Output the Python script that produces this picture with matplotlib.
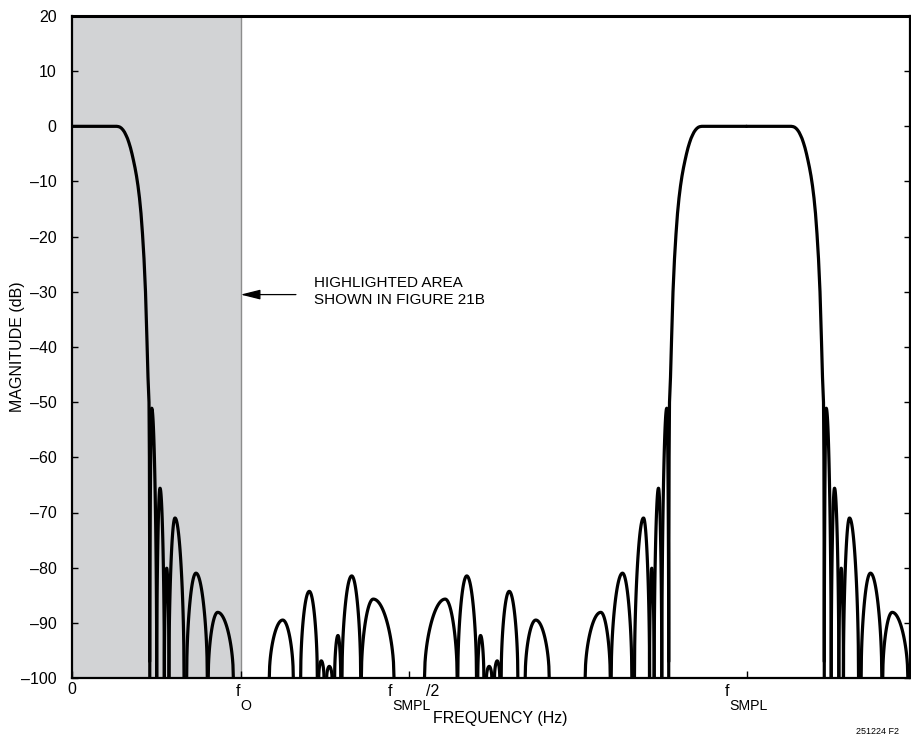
import numpy as np
import matplotlib
matplotlib.use("Agg")
import matplotlib.pyplot as plt
from matplotlib import font_manager

# ---------------- data (frequency normalised to f_SMPL = 1) ----------------
# pass-band edge of the baseband response (freq, dB)
edge_f = [0.0, 0.06627, 0.06894, 0.07116, 0.07339, 0.07561, 0.07784, 0.08006,
          0.08228, 0.08451, 0.08673, 0.08899, 0.09118, 0.09340, 0.09563,
          0.09785, 0.10007, 0.10230, 0.10452, 0.10675, 0.10897, 0.11119,
          0.11268, 0.11416, 0.11475, 0.11505, 0.11520]
edge_db = [0.0, 0.0, -0.05, -0.15, -0.35, -0.65, -1.05, -1.6,
           -2.2, -3.0, -3.9, -5.0, -6.2, -7.5, -9.0,
           -10.8, -13.0, -15.8, -19.5, -24.0, -30.0, -39.0,
           -45.5, -50.0, -60.0, -75.0, -97.0]

# stop-band lobes of the baseband response (0 .. f_SMPL/2)
lobe_start = [0.1153, 0.1256, 0.1369, 0.1437, 0.1700, 0.2020,
              0.2925, 0.3390, 0.3658, 0.3776, 0.3894, 0.4003, 0.4290]
lobe_peakf = [0.1182, 0.1305, 0.1404, 0.1527, 0.1838, 0.2160,
              0.3124, 0.3518, 0.3696, 0.3815, 0.3943, 0.4147, 0.4467]
lobe_end = [0.1256, 0.1369, 0.1438, 0.1661, 0.2006, 0.2392,
            0.3281, 0.3637, 0.3736, 0.3855, 0.3984, 0.4280, 0.4774]
lobe_peak = [-51.1, -65.6, -80.1, -71.0, -81.0, -88.1,
             -89.5, -84.3, -96.9, -97.9, -92.3, -81.5, -85.7]

yticks = [20, 10, 0, -10, -20, -30, -40, -50, -60, -70, -80, -90, -100]
xticks = [0.0, 0.25, 0.5, 1.0]
xtick_main = ["0", "f", "f", "f"]
xtick_sub = ["", "O", "SMPL", "SMPL"]
xtick_suffix = ["", "", "/2", ""]
f0 = 0.25
xmax = 1.2424

# ---------------- fonts ----------------
avail = {f.name for f in font_manager.fontManager.ttflist}
fam = "Liberation Sans Narrow" if "Liberation Sans Narrow" in avail else "Liberation Sans"
plt.rcParams["font.family"] = [fam, "DejaVu Sans"]

fig = plt.figure(figsize=(9.12, 7.4), dpi=100)
ax = fig.add_axes([72 / 912, 1 - 678 / 740, (910 - 72) / 912, (678 - 16) / 740])

ax.axvspan(0, f0, color="#d2d3d5", zorder=0, lw=0)
ax.axvline(f0, color="#8c8c8c", lw=1.0, zorder=1)

# build pieces of the baseband curve
pieces = [(np.array(edge_f), np.array(edge_db))]
for s, pf, e, pk in zip(lobe_start, lobe_peakf, lobe_end, lobe_peak):
    tl = np.linspace(0, 1, 40)
    xl = s + (pf - s) * tl
    yl = -100 + (pk + 100) * np.sqrt(np.sin(np.pi / 2 * tl))
    tr = np.linspace(1, 0, 40)
    xr = pf + (e - pf) * (1 - tr)
    yr = -100 + (pk + 100) * np.sqrt(np.sin(np.pi / 2 * tr))
    pieces.append((np.concatenate([xl, xr[1:]]), np.concatenate([yl, yr[1:]])))

# sampled response: baseband, its mirror about f_SMPL/2 and the image around f_SMPL
for xs, ys in pieces:
    for xx in (xs, 1 - xs, 1 + xs):
        ax.plot(xx, ys, color="black", lw=2.3, solid_capstyle="round",
                solid_joinstyle="round", zorder=3)

ax.set_xlim(0, xmax)
ax.set_ylim(-100, 20)
ax.set_yticks(yticks)
ax.set_yticklabels([str(v).replace("-", "\u2013") for v in yticks])
ax.set_xticks(xticks)
ax.set_xticklabels(["" for _ in xticks])
ax.tick_params(axis="both", direction="in", labelsize=11.5, colors="black")
ax.tick_params(axis="y", left=True, right=True, length=4, width=1, pad=11)
ax.tick_params(axis="x", length=5, width=1, pad=5)
for sp in ax.spines.values():
    sp.set_linewidth(1.6)
ax.spines["top"].set_linewidth(2.2)

# x tick labels with subscripts, attached to the tick positions
xtr = ax.get_xaxis_transform()
for xt, m, sub, suf in zip(xticks, xtick_main, xtick_sub, xtick_suffix):
    if not sub:
        ax.annotate(m, xy=(xt, 0), xycoords=xtr, xytext=(0, -12),
                    textcoords="offset pixels", ha="center", va="center", fontsize=11.5)
        continue
    dx = 0 if sub == "O" else -17
    ax.annotate(m, xy=(xt, 0), xycoords=xtr, xytext=(dx, -13),
                textcoords="offset pixels", ha="right", va="center", fontsize=11.5)
    ax.annotate(sub, xy=(xt, 0), xycoords=xtr, xytext=(dx, -28),
                textcoords="offset pixels", ha="left", va="center", fontsize=10.2)
    if suf:
        ax.annotate(suf, xy=(xt, 0), xycoords=xtr, xytext=(dx + 34, -13),
                    textcoords="offset pixels", ha="left", va="center", fontsize=11.5)

ax.set_xlabel("FREQUENCY (Hz)", fontsize=11.5)
ax.xaxis.set_label_coords((500 - 72) / 838, -(719 - 678) / 662, transform=ax.transAxes)
ax.xaxis.label.set_va("center")
ax.set_ylabel("MAGNITUDE (dB)", fontsize=11.5)
ax.yaxis.set_label_coords((18 - 72) / 838, 0.5, transform=ax.transAxes)
ax.yaxis.label.set_va("center")

ax.annotate("", xy=(f0, -30.5), xytext=(0.332, -30.5),
            arrowprops=dict(arrowstyle="-|>,head_length=1.2,head_width=0.3",
                            color="black", lw=0.9, shrinkA=0, shrinkB=0))
ax.text(0.3588, -29.9, "HIGHLIGHTED AREA\nSHOWN IN FIGURE 21B", fontsize=11,
        ha="left", va="center", linespacing=1.3)

fig.text(878 / 912, 1 - 731 / 740, "251224 F2", fontsize=6.5, ha="center", va="center")

fig.savefig("out.png", dpi=100)
